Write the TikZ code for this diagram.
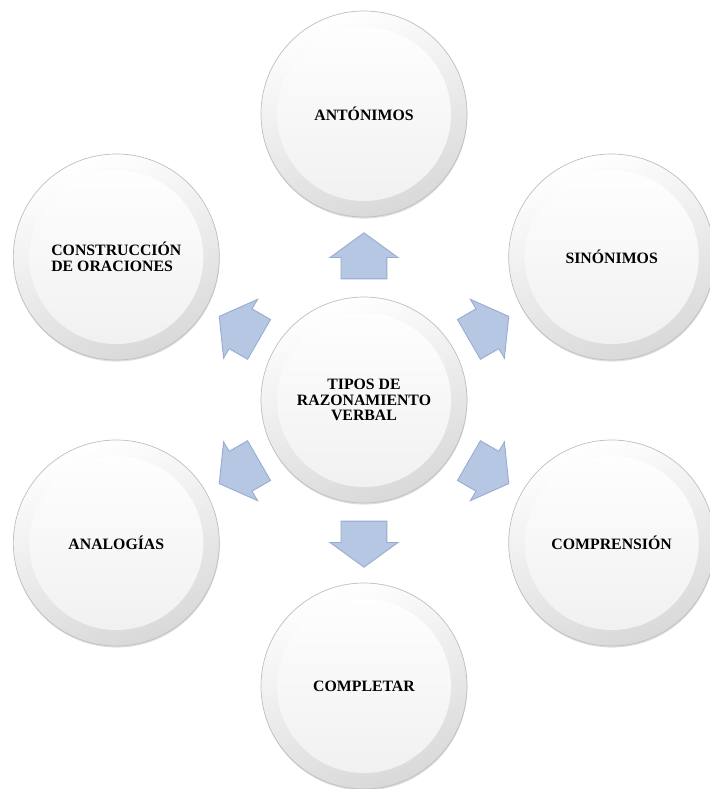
\documentclass[tikz,border=0pt]{standalone}
\usepackage{fontspec}
\setmainfont{Liberation Serif}
\usetikzlibrary{shapes.arrows,calc,shadows}

\begin{document}
\begin{tikzpicture}
\definecolor{arrowfill}{RGB}{182,199,228}
\definecolor{arrowline}{RGB}{150,171,208}
\tikzstyle{every node}=[font=\bfseries\fontsize{9}{8.9}\selectfont]
\tikzstyle{bubble}=[circle,minimum size=4.12cm,inner sep=0pt,align=center,
  draw=gray!50,top color=white,bottom color=gray!30,shading angle=20,
  drop shadow={opacity=0.25,shadow xshift=0.2pt,shadow yshift=-0.9pt},
  path picture={\shade[top color=white,bottom color=gray!12]
    (path picture bounding box.center) circle (1.74cm);}]
\tikzstyle{blockarrow}=[single arrow,draw=arrowline,fill=arrowfill,
  minimum height=0.92cm,single arrow head extend=0.22cm,
  single arrow tip angle=108,inner xsep=0pt,inner ysep=0.45cm,line width=0.5pt]

\useasboundingbox (-7.28,-7.78) rectangle (6.92,8.0);

%% Centre circle
\node[bubble] (hub) at (0,0) {TIPOS DE\\RAZONAMIENTO\\VERBAL};

%% Outer circles
\node[bubble] (antonimos) at (90:5.72) {ANTÓNIMOS};
\node[bubble] (sinonimos) at (30:5.72) {SINÓNIMOS};
\node[bubble] (comprension) at (-30:5.72) {COMPRENSIÓN};
\node[bubble] (completar) at (-90:5.72) {COMPLETAR};
\node[bubble] (analogias) at (210:5.72) {ANALOGÍAS};
\node[bubble,align=left] (construccion) at (150:5.72) {CONSTRUCCIÓN\\DE ORACIONES};

%% Block arrows between centre and outer circles
\node[blockarrow,rotate=90] (toantonimos) at ($(hub)!0.475!(antonimos)$) {};
\node[blockarrow,rotate=30] (tosinonimos) at ($(hub)!0.475!(sinonimos)$) {};
\node[blockarrow,rotate=-30] (tocomprension) at ($(hub)!0.475!(comprension)$) {};
\node[blockarrow,rotate=-90] (tocompletar) at ($(hub)!0.475!(completar)$) {};
\node[blockarrow,rotate=210] (toanalogias) at ($(hub)!0.475!(analogias)$) {};
\node[blockarrow,rotate=150] (toconstruccion) at ($(hub)!0.475!(construccion)$) {};
\end{tikzpicture}
\end{document}
